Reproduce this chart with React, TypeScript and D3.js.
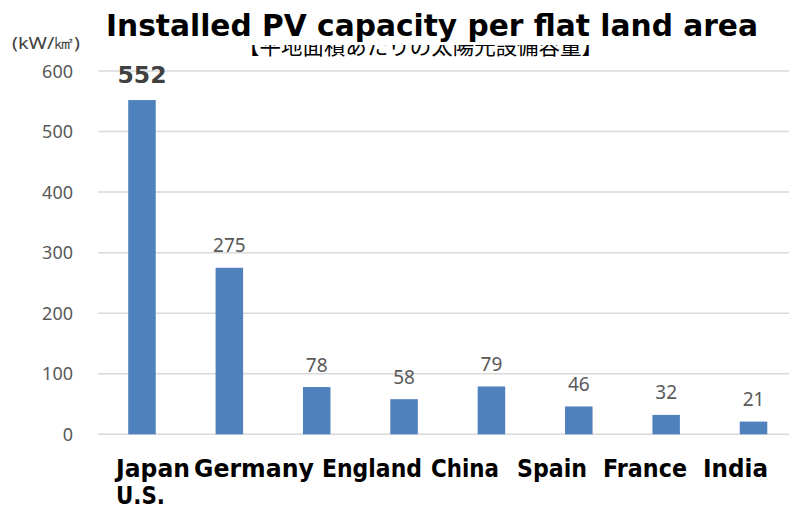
import React from "react";
import * as d3 from "d3";

// Installed PV capacity per flat land area (kW/km²)
const categories = ["Japan", "Germany", "England", "China", "Spain", "France", "India", "U.S."];
const values = [552, 275, 78, 58, 79, 46, 32, 21];
const yTicks = [0, 100, 200, 300, 400, 500, 600];
const labelLine1 = ["Japan", "Germany", "England", "China", "Spain", "France", "India"];
const labelLine2 = ["U.S."];
const title = "Installed PV capacity per flat land area";
const subtitle = "【平地面積あたりの太陽光設備容量】";
const unit = "(kW/㎢)";

const W = 789;
const H = 506;

// word placement of the caption rows under the axis
const line1Slots: [number, number][] = [
  [116, 190], [194, 314], [322, 422], [431, 499], [517, 587], [603, 687], [703, 768],
];
const line2Slots: [number, number][] = [[116, 165]];

export default function App() {
  const x = d3
    .scaleBand<string>()
    .domain(categories)
    .range([98.3, 797.2])
    .paddingInner(0.685)
    .paddingOuter(0.3425);
  const y = d3.scaleLinear().domain([0, 600]).range([434.3, 71]);

  const sans = "'Noto Sans', 'Open Sans', sans-serif";
  const heavy = "'DejaVu Sans', Verdana, sans-serif";

  return (
    <svg
      width={W}
      height={H}
      style={{ position: "absolute", left: 0, top: 0, background: "#fff" }}
    >
      <rect x={0} y={0} width={W} height={H} fill="#fff" />

      {/* gridlines */}
      {yTicks.map((t) => (
        <line
          key={t}
          x1={98}
          x2={W}
          y1={y(t)}
          y2={y(t)}
          stroke="#D9D9D9"
          strokeWidth={1.5}
        />
      ))}

      {/* tick labels */}
      {yTicks.map((t) => (
        <text
          key={t}
          x={73}
          y={y(t) + 6.5}
          textAnchor="end"
          fontFamily={sans}
          fontSize={18}
          fill="#595959"
        >
          {t}
        </text>
      ))}

      {/* bars */}
      {categories.map((c, i) => (
        <rect
          key={c}
          x={x(c)}
          y={y(values[i])}
          width={x.bandwidth()}
          height={y(0) - y(values[i])}
          fill="#4F81BD"
        />
      ))}

      {/* value labels */}
      {categories.map((c, i) => {
        const cx = (x(c) as number) + x.bandwidth() / 2;
        const first = i === 0;
        return (
          <text
            key={c}
            x={cx}
            y={y(values[i]) - (first ? 17 : 15.5)}
            textAnchor="middle"
            fontFamily={first ? heavy : sans}
            fontSize={first ? 23.5 : 19}
            fontWeight={first ? 700 : 400}
            fill={first ? "#404040" : "#595959"}
          >
            {values[i]}
          </text>
        );
      })}

      {/* unit */}
      <text x={12} y={49} fontFamily={sans} fontSize={17} fill="#404040" textLength={68} lengthAdjust="spacingAndGlyphs">
        {unit}
      </text>

      {/* subtitle, partly covered by the title box */}
      <text
        x={238}
        y={53.5}
        fontFamily="'Noto Sans CJK JP', sans-serif"
        fontSize={21.5}
        fill="#000"
        textLength={365}
        lengthAdjust="spacingAndGlyphs"
      >
        {subtitle}
      </text>
      <rect x={100} y={0} width={670} height={45} fill="#fff" />

      {/* title */}
      <text
        x={106}
        y={36}
        fontFamily={heavy}
        fontSize={30}
        fontWeight={700}
        fill="#000"
        textLength={652}
        lengthAdjust="spacingAndGlyphs"
      >
        {title}
      </text>

      {/* caption rows */}
      {labelLine1.map((w, i) => (
        <text
          key={w}
          x={line1Slots[i][0]}
          y={476.5}
          fontFamily={heavy}
          fontSize={25}
          fontWeight={700}
          fill="#000"
          textLength={line1Slots[i][1] - line1Slots[i][0]}
          lengthAdjust="spacingAndGlyphs"
        >
          {w}
        </text>
      ))}
      {labelLine2.map((w, i) => (
        <text
          key={w}
          x={line2Slots[i][0]}
          y={504}
          fontFamily={heavy}
          fontSize={25}
          fontWeight={700}
          fill="#000"
          textLength={line2Slots[i][1] - line2Slots[i][0]}
          lengthAdjust="spacingAndGlyphs"
        >
          {w}
        </text>
      ))}
    </svg>
  );
}
